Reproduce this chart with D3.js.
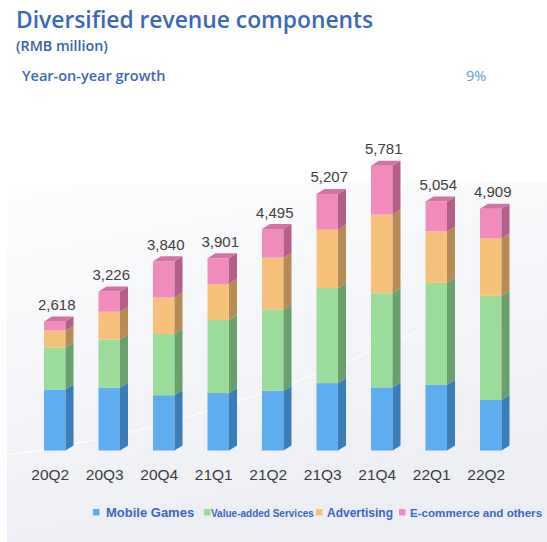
<!DOCTYPE html>
<html>
<head>
<meta charset="utf-8">
<script src="https://cdn.jsdelivr.net/npm/d3@7"></script>
<style>
  html, body { margin: 0; padding: 0; background: #ffffff; }
  svg { display: block; }
</style>
</head>
<body>
<div id="chart"></div>
<script>
// data (RMB million)
var quarters = ["20Q2", "20Q3", "20Q4", "21Q1", "21Q2", "21Q3", "21Q4", "22Q1", "22Q2"];
var totals = [2618, 3226, 3840, 3901, 4495, 5207, 5781, 5054, 4909];
var mobileGames = [1238, 1273, 1122, 1166, 1211, 1368, 1281, 1334, 1027];
var valueAdded = [853, 978, 1243, 1482, 1648, 1932, 1910, 2068, 2113];
var advertising = [345, 566, 739, 730, 1056, 1180, 1599, 1045, 1169];
var ecommerce = [183, 409, 736, 523, 580, 727, 991, 607, 600];
var seriesNames = ["Mobile Games", "Value-added Services", "Advertising", "E-commerce and others"];

var width = 547, height = 542;

// colours: front, side, top
var colors = [
  {front: "#5eadf0", side: "#3b7db6", top: "#4f96d4"},
  {front: "#9bdc9b", side: "#69a06c", top: "#86c487"},
  {front: "#f5c17b", side: "#b58c55", top: "#dba96a"},
  {front: "#f08bbb", side: "#b45f89", top: "#cf74a2"}
];

var svg = d3.select("#chart")
  .append("svg")
    .attr("width", width)
    .attr("height", height);

// background panel
var defs = svg.append("defs");
var grad = defs.append("linearGradient")
    .attr("id", "panel")
    .attr("x1", "0").attr("y1", "0").attr("x2", "0.3").attr("y2", "1");
grad.append("stop").attr("offset", "0%").attr("stop-color", "#fdfdfe");
grad.append("stop").attr("offset", "100%").attr("stop-color", "#eceef3");

svg.append("rect")
    .attr("x", 7).attr("y", 183)
    .attr("width", width - 7).attr("height", height - 183)
    .style("fill", "url(#panel)");

svg.append("path")
    .attr("d", "M7,455 Q200,430 420,330")
    .style("fill", "none")
    .style("stroke", "#ffffff")
    .style("stroke-opacity", 0.7)
    .style("stroke-width", 1.5);

// titles
svg.append("text")
    .attr("x", 16).attr("y", 28)
    .style("font-family", "'Open Sans', sans-serif")
    .style("font-weight", 600)
    .style("font-size", "22.8px")
    .style("fill", "#3b67ba")
    .text("Diversified revenue components");

svg.append("text")
    .attr("x", 16).attr("y", 51)
    .style("font-family", "'Open Sans', sans-serif")
    .style("font-weight", 600)
    .style("font-size", "14.3px")
    .style("fill", "#3a5fa8")
    .text("(RMB million)");

svg.append("text")
    .attr("x", 22).attr("y", 81)
    .style("font-family", "'Open Sans', sans-serif")
    .style("font-weight", 600)
    .style("font-size", "14.5px")
    .style("fill", "#3b67ba")
    .text("Year-on-year growth");

svg.append("text")
    .attr("x", 466).attr("y", 81)
    .style("font-family", "'Open Sans', sans-serif")
    .style("font-size", "14.5px")
    .style("fill", "#55a0d2")
    .text("9%");

// scales
var x = d3.scaleBand()
    .domain(quarters)
    .range([44, 501.5])
    .paddingInner(0.6055)
    .paddingOuter(0);

var y = d3.scaleLinear()
    .domain([0, 6000])
    .range([450.5, 450.5 - 6000 / 20.3]);

var dx = 8, dy = 5;
var w = x.bandwidth();

// stack the four series
var table = quarters.map(function (q, i) {
  return {q: q, s0: mobileGames[i], s1: valueAdded[i], s2: advertising[i], s3: ecommerce[i]};
});
var stack = d3.stack().keys(["s0", "s1", "s2", "s3"])(table);

var bars = svg.append("g");

stack.forEach(function (layer, k) {
  var g = bars.append("g");
  // front face
  g.selectAll("rect")
    .data(layer)
    .enter()
    .append("rect")
      .attr("x", function (d) { return x(d.data.q); })
      .attr("y", function (d) { return y(d[1]); })
      .attr("width", w)
      .attr("height", function (d) { return y(d[0]) - y(d[1]); })
      .style("fill", colors[k].front);
  // side face
  g.selectAll("path.side")
    .data(layer)
    .enter()
    .append("path")
      .attr("class", "side")
      .attr("d", function (d) {
        var x1 = x(d.data.q) + w, t = y(d[1]), b = y(d[0]);
        return "M" + x1 + "," + t + "L" + (x1 + dx) + "," + (t - dy) +
               "L" + (x1 + dx) + "," + (b - dy) + "L" + x1 + "," + b + "Z";
      })
      .style("fill", colors[k].side);
});

// top face of each bar
bars.append("g")
  .selectAll("path")
  .data(stack[3])
  .enter()
  .append("path")
    .attr("d", function (d) {
      var x0 = x(d.data.q), t = y(d[1]);
      return "M" + x0 + "," + t + "L" + (x0 + dx) + "," + (t - dy) +
             "L" + (x0 + w + dx) + "," + (t - dy) + "L" + (x0 + w) + "," + t + "Z";
    })
    .style("fill", colors[3].top);

// total labels
svg.append("g")
  .selectAll("text")
  .data(quarters)
  .enter()
  .append("text")
    .attr("x", function (d) { return x(d) + w / 2 + 2; })
    .attr("y", function (d, i) { return y(totals[i]) - 11.5; })
    .attr("text-anchor", "middle")
    .style("font-family", "'Liberation Sans', Arial, sans-serif")
    .style("font-size", "15px")
    .style("fill", "#404040")
    .text(function (d, i) { return d3.format(",")(totals[i]); });

// x axis labels
svg.append("g")
  .selectAll("text")
  .data(quarters)
  .enter()
  .append("text")
    .attr("x", function (d) { return x(d) + w / 2 - 4.5; })
    .attr("y", 480)
    .attr("text-anchor", "middle")
    .style("font-family", "'Liberation Sans', Arial, sans-serif")
    .style("font-size", "15.5px")
    .style("fill", "#3c3c3c")
    .text(function (d) { return d; });

// legend
var legendX = [93, 204, 316, 399];
var legendSize = ["13px", "10px", "12px", "11.6px"];
var legend = svg.append("g");
seriesNames.forEach(function (name, k) {
  legend.append("rect")
    .attr("x", legendX[k]).attr("y", 509)
    .attr("width", 6.5).attr("height", 6.5)
    .style("fill", colors[k].front);
  legend.append("text")
    .attr("x", legendX[k] + (k === 0 ? 13 : k === 1 ? 7 : 11))
    .attr("y", 516.5)
    .style("font-family", "'Liberation Sans', Arial, sans-serif")
    .style("font-weight", "bold")
    .style("font-size", legendSize[k])
    .style("fill", "#3b67ba")
    .text(name);
});
</script>
</body>
</html>
